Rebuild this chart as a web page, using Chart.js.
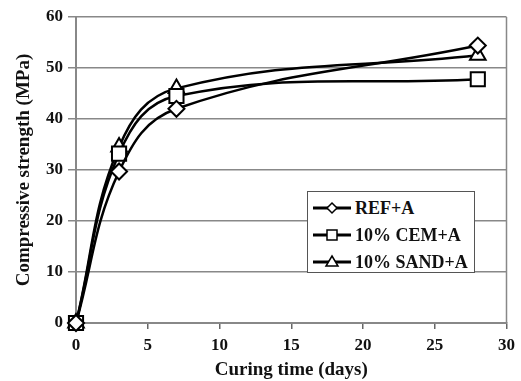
<!DOCTYPE html>
<html lang="en">
<head>
    <meta charset="UTF-8">
    <title>Compressive strength vs curing time</title>
    <script src="https://cdn.jsdelivr.net/npm/chart.js"></script>
    <style>
        body { margin: 0; background: #fff; }
        #wrap { position: relative; width: 521px; height: 381px; }
        #legend {
            position: absolute; left: 307px; top: 191px; width: 166px; height: 80px;
            border: 1.5px solid #555; background: #fff;
            font: bold 18px 'Liberation Serif', 'Times New Roman', serif; color: #111;
        }
        .row { position: absolute; left: 0; height: 26px; display: flex; align-items: center; }
        .row svg { margin-left: 5px; margin-right: 4px; }
    </style>
</head>
<body>
<div id="wrap">
    <canvas id="myChart" width="521" height="381"></canvas>
    <div id="legend"></div>
</div>
<script>
    // curing time (days) and strength (MPa) per mix
    const days = [0, 3, 7, 28];
    const refA = [0, 29.7, 42.0, 54.4];
    const cemA = [0, 33.2, 44.5, 47.8];
    const sandA = [0, 34.5, 46.0, 52.5];
    const seriesNames = ['REF+A', '10% CEM+A', '10% SAND+A'];
    const yTicks = [0, 10, 20, 30, 40, 50, 60];
    const xTicks = [0, 5, 10, 15, 20, 25, 30];

    const serif = "'Liberation Serif', 'Times New Roman', serif";
    const toPts = vals => days.map((d, i) => ({ x: d, y: vals[i] }));

    const styles = [
        { pointStyle: 'rectRot', pointRadius: 8 },
        { pointStyle: 'rect', pointRadius: 10 },
        { pointStyle: 'triangle', pointRadius: 9 }
    ];

    const datasets = [refA, cemA, sandA].map((vals, i) => ({
        label: seriesNames[i],
        data: toPts(vals),
        borderColor: '#000',
        borderWidth: 2.5,
        backgroundColor: '#fff',
        pointBackgroundColor: '#fff',
        pointBorderColor: '#000',
        pointBorderWidth: 2,
        pointStyle: styles[i].pointStyle,
        pointRadius: styles[i].pointRadius,
        tension: 0.4,
        clip: false,
        fill: false
    }));

    // right-hand frame line of the plot area
    const frame = {
        id: 'frame',
        beforeDatasetsDraw(chart) {
            const { ctx, chartArea: a } = chart;
            ctx.save();
            ctx.strokeStyle = '#888';
            ctx.lineWidth = 1.5;
            ctx.beginPath();
            ctx.moveTo(a.right, a.top);
            ctx.lineTo(a.right, a.bottom);
            ctx.stroke();
            ctx.restore();
        }
    };

    const ctx = document.getElementById('myChart').getContext('2d');
    const myChart = new Chart(ctx, {
        type: 'line',
        data: { datasets: datasets },
        options: {
            responsive: false,
            animation: false,
            layout: { padding: { top: 17, right: 13, left: 0, bottom: 0 } },
            plugins: { legend: { display: false }, tooltip: { enabled: false } },
            scales: {
                x: {
                    type: 'linear',
                    min: 0, max: 30,
                    afterBuildTicks: s => { s.ticks = xTicks.map(v => ({ value: v })); },
                    afterFit: s => { s.height = 58; },
                    grid: { drawOnChartArea: false, color: '#666', tickLength: 6, lineWidth: 1.5 },
                    border: { color: '#888', width: 2 },
                    ticks: { color: '#111', padding: 6, font: { family: serif, size: 17, weight: 'bold' } },
                    title: {
                        display: true, text: 'Curing time (days)', color: '#111',
                        padding: { top: 0, bottom: 0 },
                        font: { family: serif, size: 19, weight: 'bold' }
                    }
                },
                y: {
                    min: 0, max: 60,
                    afterBuildTicks: s => { s.ticks = yTicks.map(v => ({ value: v })); },
                    afterFit: s => { s.width = 76; },
                    grid: { color: '#888', lineWidth: 1.5, tickLength: 8 },
                    border: { color: '#888', width: 2 },
                    ticks: { color: '#111', padding: 5, font: { family: serif, size: 17, weight: 'bold' } },
                    title: {
                        display: true, text: 'Compressive strength (MPa)', color: '#111',
                        padding: { top: 13, bottom: 0 },
                        font: { family: serif, size: 19, weight: 'bold' }
                    }
                }
            }
        },
        plugins: [frame]
    });

    // legend inside the plot, built from the same names
    const icons = [
        '<polygon points="19,3 24,8 19,13 14,8" fill="#fff" stroke="#000" stroke-width="1.5"/>',
        '<rect x="14" y="3" width="10" height="10" fill="#fff" stroke="#000" stroke-width="1.5"/>',
        '<polygon points="19,2 25,12 13,12" fill="#fff" stroke="#000" stroke-width="1.5"/>'
    ];
    const legend = document.getElementById('legend');
    seriesNames.forEach((name, i) => {
        const row = document.createElement('div');
        row.className = 'row';
        row.style.top = (3 + i * 27) + 'px';
        row.innerHTML = '<svg width="38" height="16"><line x1="0" y1="8" x2="38" y2="8" stroke="#000" stroke-width="3"/>' +
            icons[i] + '</svg><span>' + name + '</span>';
        legend.appendChild(row);
    });
</script>
</body>
</html>
